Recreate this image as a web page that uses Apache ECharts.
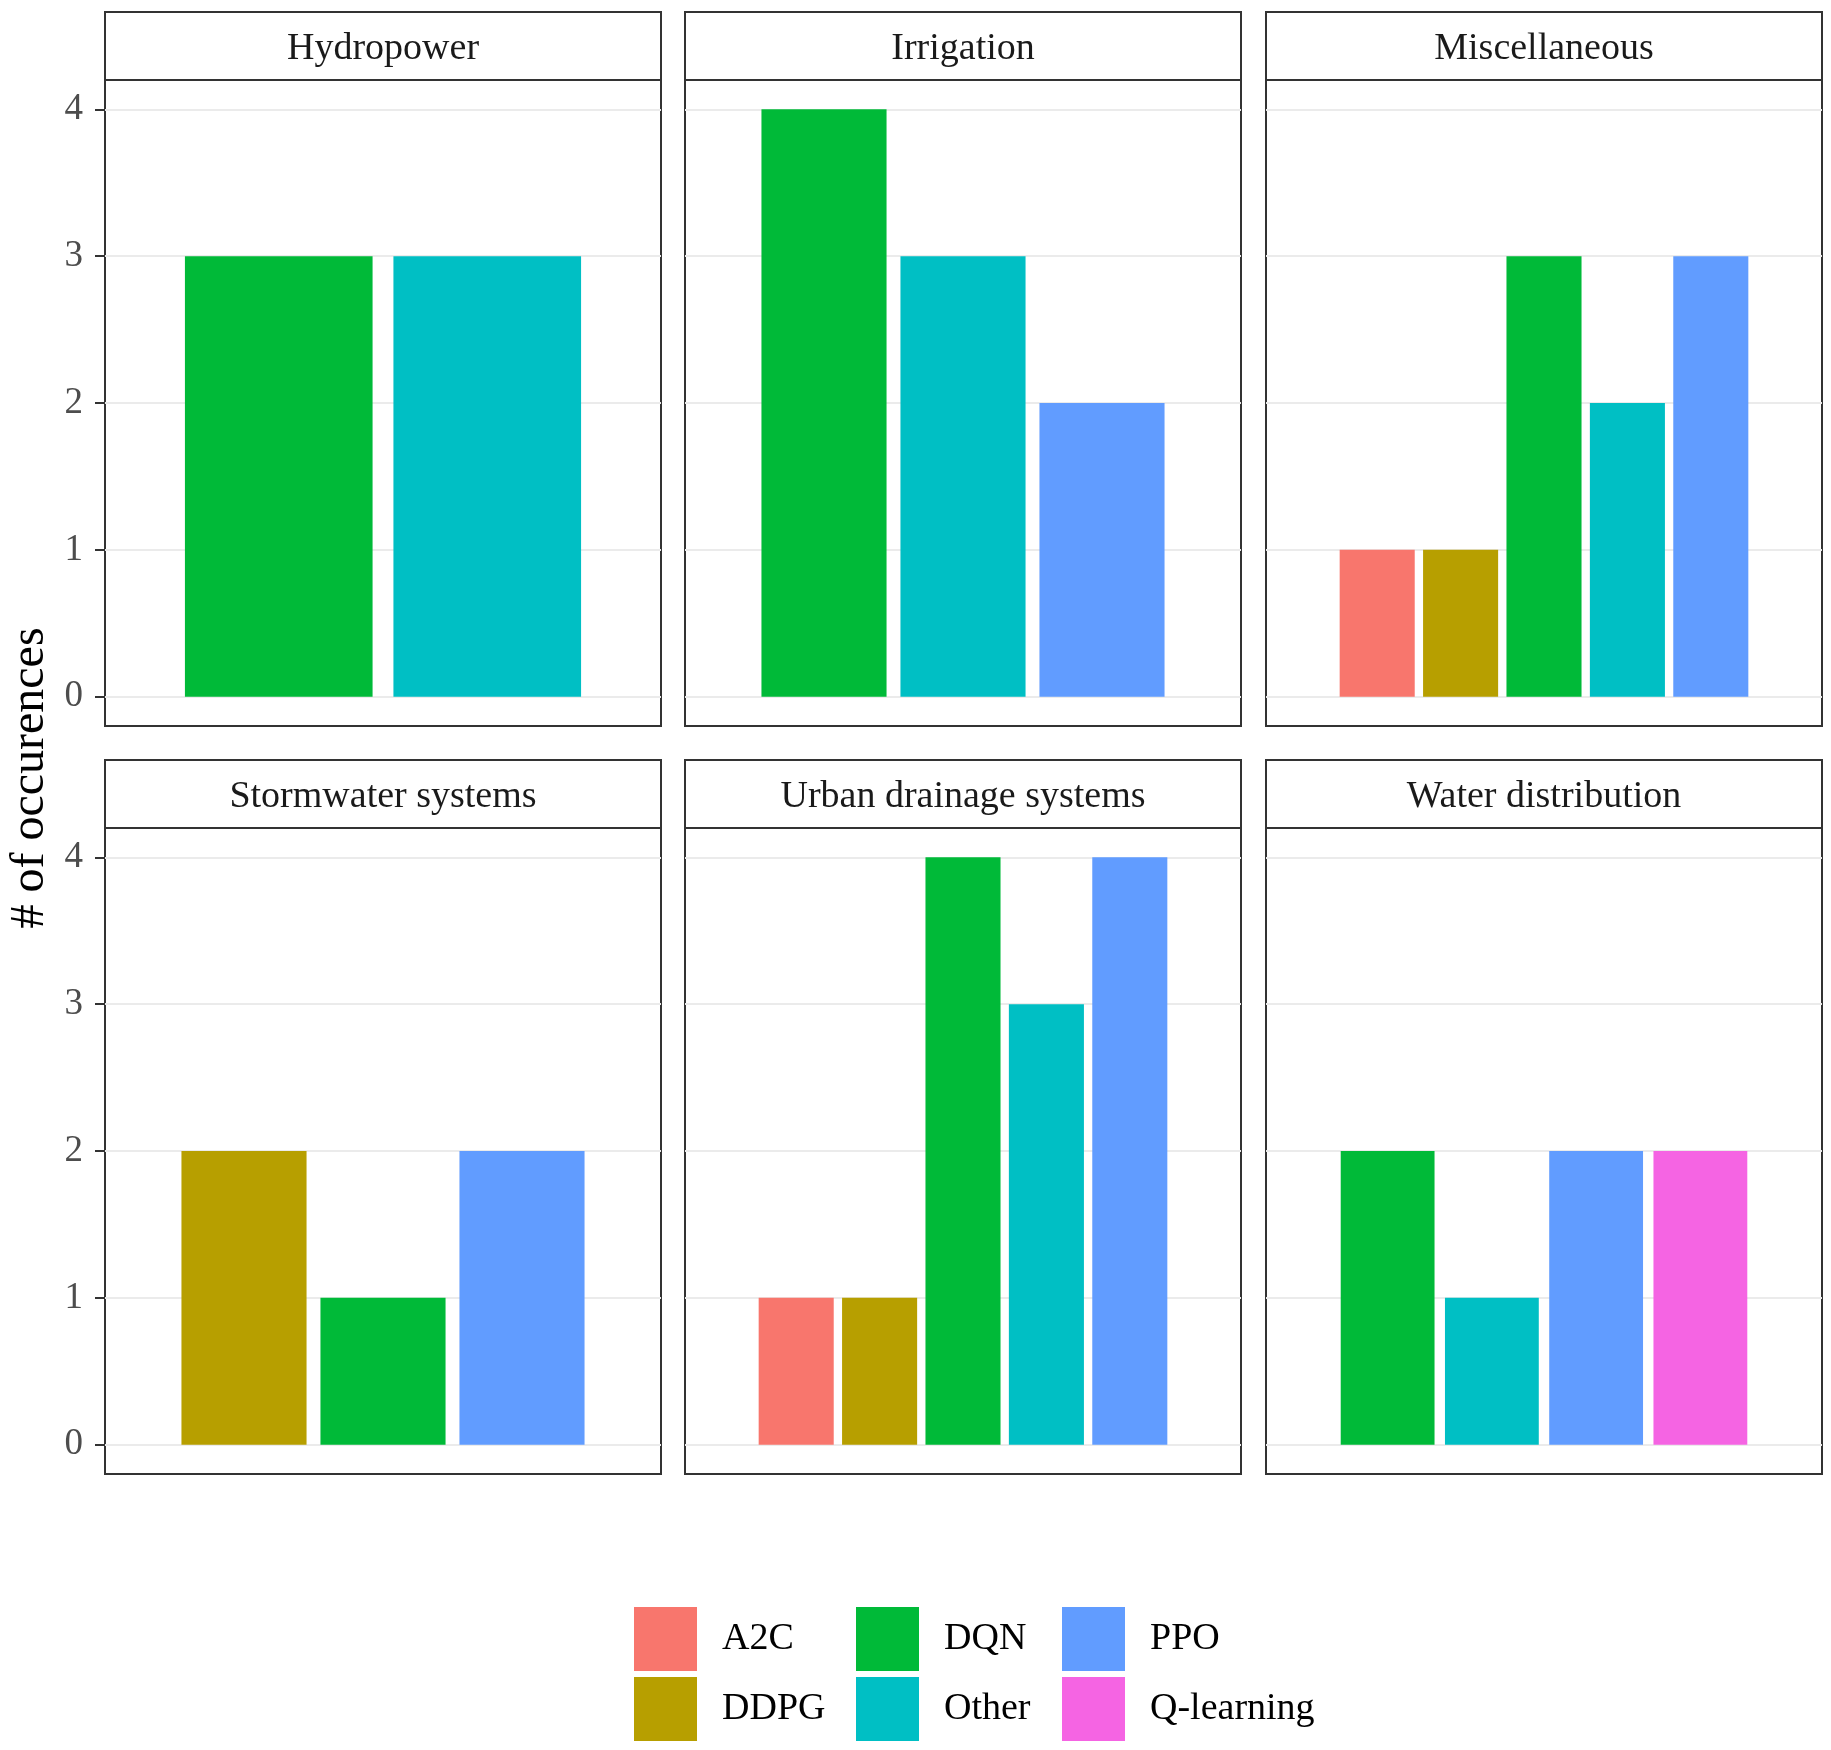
<!DOCTYPE html>
<html>
<head>
<meta charset="utf-8">
<script src="https://cdn.jsdelivr.net/npm/echarts@6/dist/echarts.min.js"></script>
<style>
  html, body { margin: 0; padding: 0; background: #ffffff; }
  #chart { width: 1831px; height: 1750px; }
</style>
</head>
<body>
<div id="chart"></div>
<script>
// ---- data ----
const facets = ['Hydropower', 'Irrigation', 'Miscellaneous', 'Stormwater systems', 'Urban drainage systems', 'Water distribution'];
const algorithms = ['A2C', 'DDPG', 'DQN', 'Other', 'PPO', 'Q-learning'];
const algorithmColors = ['#F8766D', '#B79F00', '#00BA38', '#00BFC4', '#619CFF', '#F564E3'];
// counts per facet, in algorithm order (null = not present)
const hydropower        = [null, null, 3, 3, null, null];
const irrigation        = [null, null, 4, 3, 2, null];
const miscellaneous     = [1, 1, 3, 2, 3, null];
const stormwater        = [null, 2, 1, null, 2, null];
const urbanDrainage     = [1, 1, 4, 3, 4, null];
const waterDistribution = [null, null, 2, 1, 2, 2];
const yTicks = [0, 1, 2, 3, 4];
const yTitle = '# of occurences';

const facetCounts = [hydropower, irrigation, miscellaneous, stormwater, urbanDrainage, waterDistribution];

// ---- layout ----
const FONT = '"Liberation Serif", "Times New Roman", serif';
const colLeft = [105, 685, 1266];
const panelW = 556;
const stripTop = [12, 760];
const stripH = 68;
const panelH = 646;
const yMin = -0.2, yMax = 4.2;

const grid = [], xAxis = [], yAxis = [], series = [], title = [];

facets.forEach((facet, p) => {
  const col = p % 3, row = Math.floor(p / 3);
  const left = colLeft[col];
  const sTop = stripTop[row];
  const pTop = sTop + stripH;

  // strip box
  const gStrip = grid.length;
  grid.push({ left: left, top: sTop, width: panelW, height: stripH, show: true,
              backgroundColor: '#ffffff', borderColor: '#333333', borderWidth: 2 });
  xAxis.push({ gridIndex: gStrip, type: 'value', show: false });
  yAxis.push({ gridIndex: gStrip, type: 'value', show: false });
  title.push({ text: facet, left: left + panelW / 2, top: sTop + stripH / 2 + 3,
               textAlign: 'center', textVerticalAlign: 'middle', padding: 0,
               textStyle: { fontFamily: FONT, fontSize: 38, fontWeight: 'normal', color: '#1A1A1A' } });

  // frame panel with gridlines
  const gFrame = grid.length;
  grid.push({ left: left, top: pTop, width: panelW, height: panelH, show: true,
              backgroundColor: '#ffffff', borderColor: '#333333', borderWidth: 2 });
  xAxis.push({ gridIndex: gFrame, type: 'value', show: false });
  yAxis.push({ gridIndex: gFrame, type: 'value', min: yMin, max: yMax, splitNumber: 4,
               axisLine: { show: false },
               axisTick: { show: col === 0, customValues: yTicks, length: 10,
                           lineStyle: { color: '#333333', width: 2 } },
               axisLabel: { show: col === 0, customValues: yTicks, margin: 22,
                            fontFamily: FONT, fontSize: 37, color: '#4D4D4D' },
               splitLine: { show: true, lineStyle: { color: '#EBEBEB', width: 2 } } });

  // bar area (dodged bars occupy the central 75% of the panel)
  const gBar = grid.length;
  grid.push({ left: left + panelW * 0.125, top: pTop, width: panelW * 0.75, height: panelH });
  const counts = facetCounts[p];
  const present = algorithms.filter((a, i) => counts[i] != null);
  xAxis.push({ gridIndex: gBar, type: 'category', data: present, show: false, boundaryGap: true });
  yAxis.push({ gridIndex: gBar, type: 'value', min: yMin, max: yMax, show: false });
  const xi = xAxis.length - 1, yi = yAxis.length - 1;
  algorithms.forEach((alg, i) => {
    if (counts[i] == null) return;
    series.push({
      type: 'bar', name: alg, xAxisIndex: xi, yAxisIndex: yi,
      data: present.map(c => (c === alg ? counts[i] : '-')),
      barWidth: '90%', barGap: '-100%',
      itemStyle: { color: algorithmColors[i] },
      emphasis: { disabled: true }, silent: true
    });
  });
});

const legendLeft = [634, 856, 1062];
const legend = [0, 1, 2].map(j => ({
  data: [algorithms[2 * j], algorithms[2 * j + 1]],
  orient: 'vertical', left: legendLeft[j], top: 1607, padding: 0,
  itemWidth: 63, itemHeight: 64, itemGap: 6, icon: 'rect',
  selectedMode: false,
  textStyle: { fontFamily: FONT, fontSize: 38, color: '#000000', padding: [16, 0, 0, 20] }
}));

const chart = echarts.init(document.getElementById('chart'), null, { renderer: 'canvas' });
chart.setOption({
  backgroundColor: '#ffffff',
  animation: false,
  color: algorithmColors,
  title: title,
  legend: legend,
  grid: grid,
  xAxis: xAxis,
  yAxis: yAxis,
  series: series,
  graphic: [{
    type: 'text', x: 30, y: 778, rotation: Math.PI / 2,
    style: { text: yTitle, font: '48px "Liberation Serif", serif', fill: '#000000',
             align: 'center', verticalAlign: 'middle' }
  }]
});
</script>
</body>
</html>
